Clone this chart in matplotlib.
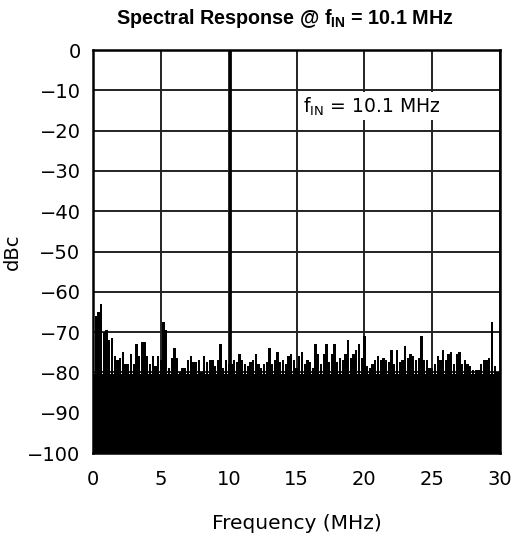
import numpy as np
import matplotlib
matplotlib.use("Agg")
import matplotlib.pyplot as plt

plt.rcParams["font.family"] = ["DejaVu Sans"]
plt.rcParams["mathtext.fontset"] = "custom"
plt.rcParams["mathtext.rm"] = "DejaVu Sans"
plt.rcParams["mathtext.bf"] = "Liberation Sans:bold"

# Spectrum: spur peaks every 0.2 MHz (dBc)
freq_step = 0.2
spur_dbc = [
    # 0 - 5 MHz
    -68, -66, -65, -63, -70, -69.5, -72, -71.5, -76, -77,
    -76.5, -75, -78, -78, -75.5, -78, -73, -76, -72.5, -72.5,
    -76, -78, -76, -78.5, -76,
    # 5 - 10 MHz
    -77, -67.5, -69.5, -79, -76.5, -74, -76.5, -80, -79, -79,
    -77, -76, -77.5, -77.5, -77, -80, -76, -77.5, -77, -77,
    -78.5, -77, -73, -79, -77,
    # 10 - 15 MHz
    -78, -78, -77, -77.5, -75.5, -77, -78, -78.5, -77.5, -77,
    -75.5, -78, -79, -78, -77.5, -74, -78, -77, -75, -77.5,
    -77, -78, -76, -75.5, -77,
    # 15 - 20 MHz
    -79, -76, -75, -78, -77, -77.5, -79, -73, -75.5, -78,
    -75.5, -73, -77.5, -75.5, -73, -77.5, -76.5, -77, -75.5, -72,
    -76.5, -75.5, -74.5, -73, -76.5,
    # 20 - 25 MHz
    -71, -78.5, -79, -78, -77, -76, -77, -76.5, -77, -77.5,
    -74.5, -78, -74.5, -77.5, -77, -73.5, -76.5, -75.5, -76, -77,
    -76.5, -71, -77, -77, -79,
    # 25 - 30 MHz
    -79, -78, -76, -77, -74.5, -77, -75.5, -75, -78, -75.5,
    -75, -78, -77, -78, -78.5, -79.5, -79.5, -79.5, -78, -77,
    -77, -76.5, -67.5, -78.5, -80, -80,
]
freq_mhz = np.arange(len(spur_dbc)) * freq_step

noise_floor_dbc = -80.5
f_in_mhz = 10.1
fundamental_dbc = 0

x_ticks = [0, 5, 10, 15, 20, 25, 30]
y_ticks = [0, -10, -20, -30, -40, -50, -60, -70, -80, -90, -100]

fig = plt.figure(figsize=(5.14, 5.42), dpi=100)
ax = fig.add_axes([0.181, 0.1642, 0.792, 0.7435])

# solid floor + spurs
ax.fill_between([0, 30], -100, noise_floor_dbc, color="black", lw=0, zorder=2)
ax.bar(freq_mhz, np.array(spur_dbc) + 100, bottom=-100, width=0.17,
       color="black", lw=0, zorder=2)
ax.vlines(f_in_mhz, -100, fundamental_dbc, color="black", lw=2.0, zorder=3)

ax.set_xlim(0, 30)
ax.set_ylim(-100, 0)
ax.set_xticks(x_ticks)
ax.set_yticks(y_ticks)
ax.set_yticklabels([str(v).replace("-", "\u2212") for v in y_ticks])
ax.tick_params(length=0, labelsize=14)
ax.tick_params(axis="x", pad=12)
ax.tick_params(axis="y", pad=9)
ax.grid(True, color="#222222", lw=1.4, zorder=1)
ax.set_axisbelow(True)
for s in ax.spines.values():
    s.set_linewidth(1.8)
    s.set_zorder(4)

ax.set_xlabel("Frequency (MHz)", fontsize=14.5)
ax.set_ylabel("dBc", fontsize=14)
ax.xaxis.set_label_coords(0.5, -0.152)
ax.yaxis.set_label_coords(-0.174, 0.5)

ax.text(15.45, -14, r"f$_{\mathrm{IN}}$ = 10.1 MHz", fontsize=13.5,
        va="center", ha="left", zorder=5,
        bbox=dict(facecolor="white", edgecolor="none", pad=2))

fig.text(0.553, 0.966, r"Spectral Response @ f$_{\mathbf{IN}}$ = 10.1 MHz",
         fontsize=14.2, fontweight="bold", family="Liberation Sans",
         ha="center", va="center")

fig.savefig("out.png", dpi=100)
